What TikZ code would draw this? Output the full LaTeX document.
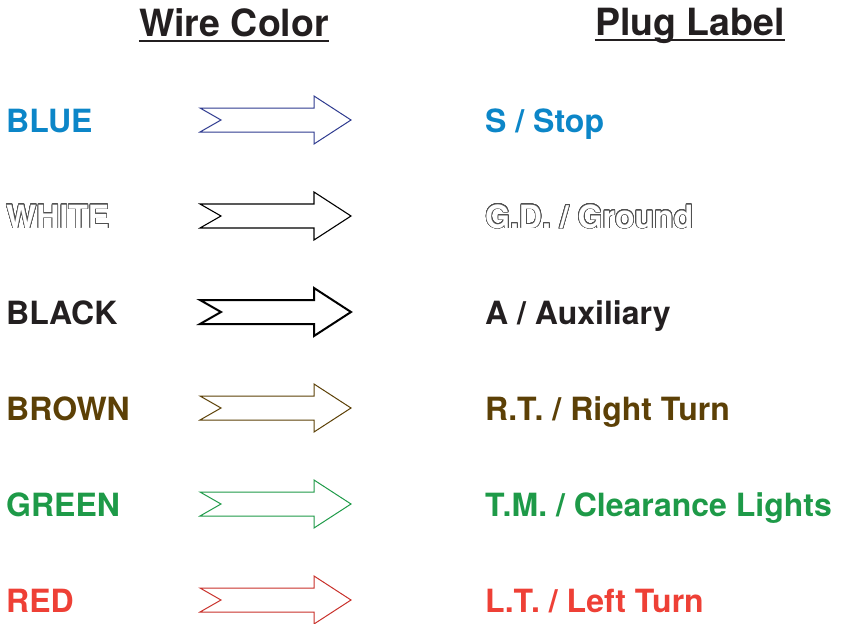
\documentclass[tikz,border=0pt]{standalone}
\usepackage{fontspec}
\setmainfont{TeX Gyre Heros}
\usepackage{xcolor}
\usepackage[copies]{contour}

\definecolor{bluetext}{RGB}{12,134,200}
\definecolor{bluearrow}{RGB}{46,58,143}
\definecolor{blacktext}{RGB}{35,31,32}
\definecolor{browntext}{RGB}{92,64,6}
\definecolor{greentext}{RGB}{30,154,72}
\definecolor{redtext}{RGB}{238,64,54}
\definecolor{redarrow}{RGB}{200,48,42}
\definecolor{outlinegray}{RGB}{80,80,80}

\contourlength{0.7pt}
\contournumber{32}
\newcommand{\hollow}[1]{\contour{outlinegray}{\textcolor{white}{#1}}}

\tikzset{
  wirelabel/.style={anchor=base west,inner sep=0pt,font=\fontsize{32}{36}\selectfont\bfseries},
  heading/.style={anchor=base,inner sep=0pt,text=blacktext,font=\fontsize{37.5}{44}\selectfont\bfseries},
  wirearrow/.pic={
    \draw[pic actions,line join=miter] (0,-12) -- (114,-12) -- (114,-24) -- (151,0)
      -- (114,24) -- (114,12) -- (0,12) -- (21,0) -- cycle;
  }
}

\begin{document}
\begin{tikzpicture}[x=1pt,y=-1pt]
            \useasboundingbox (0,0) rectangle (841,624);

            % headings
            \node (wire) at (234,36) [heading] {Wire Color};
            \node (plug) at (690,35) [heading] {Plug Label};
            \draw[blacktext,line width=2pt] ([yshift=-4.5pt]wire.base west) -- ([yshift=-4.5pt]wire.base east);
            \draw[blacktext,line width=2pt] ([yshift=-5pt]plug.base west) -- ([yshift=-5pt]plug.base east);

            % wire colours
            \node (blue) at (6,132) [wirelabel,text=bluetext] {BLUE};
            \node (white) at (6,228) [wirelabel] {\hollow{WHITE}};
            \node (black) at (6,324) [wirelabel,text=blacktext] {BLACK};
            \node (brown) at (6,420) [wirelabel,text=browntext] {BROWN};
            \node (green) at (6,516) [wirelabel,text=greentext] {GREEN};
            \node (red) at (6,612) [wirelabel,text=redtext] {RED};

            % plug labels
            \node (stop) at (485,132) [wirelabel,text=bluetext] {S / Stop};
            \node (ground) at (485,228) [wirelabel] {\hollow{G.D. / Ground}};
            \node (aux) at (485,324) [wirelabel,text=blacktext] {A / Auxiliary};
            \node (right) at (485,420) [wirelabel,text=browntext] {R.T. / Right Turn};
            \node (lights) at (485,516) [wirelabel,text=greentext] {T.M. / Clearance Lights};
            \node (left) at (485,612) [wirelabel,text=redtext] {L.T. / Left Turn};

            % arrows
            \pic[draw=bluearrow,line width=1pt] at (200,120) {wirearrow};
            \pic[draw=black,line width=1.1pt] at (200,216) {wirearrow};
            \pic[draw=black,line width=2pt] at (200,312) {wirearrow};
            \pic[draw=browntext,line width=1pt] at (200,408) {wirearrow};
            \pic[draw=greentext,line width=1pt] at (200,504) {wirearrow};
            \pic[draw=redarrow,line width=1pt] at (200,600) {wirearrow};

        \end{tikzpicture}
\end{document}
